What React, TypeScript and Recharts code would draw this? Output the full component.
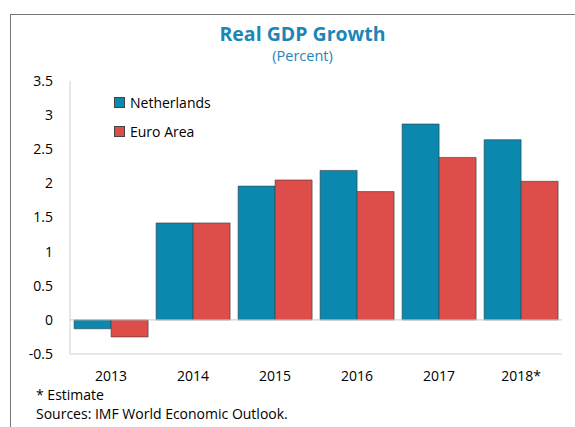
import React from 'react';
import { BarChart, Bar, XAxis, YAxis, ReferenceLine } from 'recharts';

const years = ['2013', '2014', '2015', '2016', '2017', '2018*'];
const netherlands = [-0.13, 1.42, 1.96, 2.19, 2.87, 2.64];
const euroArea = [-0.25, 1.42, 2.05, 1.88, 2.38, 2.03];
const yTicks = [-0.5, 0, 0.5, 1, 1.5, 2, 2.5, 3, 3.5];

const NL_COLOR = '#0a88ae';
const EA_COLOR = '#dd4d4a';
const TITLE_COLOR = '#1d86b6';
const BOX_COLOR = '#d0d0d0';
const FONT = '"Open Sans", "Noto Sans", sans-serif';

const data = years.map((year, i) => ({ year, nl: netherlands[i], ea: euroArea[i] }));

const legendItems = [
  { label: 'Netherlands', color: NL_COLOR },
  { label: 'Euro Area', color: EA_COLOR },
];

export default function App() {
  return (
    <div style={{ position: 'absolute', left: 0, top: 0, width: 575, height: 427, background: '#fff', overflow: 'hidden', fontFamily: FONT }}>
      {/* frame */}
      <div style={{ position: 'absolute', left: 10, top: 14, width: 570, height: 420, borderLeft: '1.5px solid #777', borderTop: '1.5px solid #777' }} />
      <div style={{ position: 'absolute', left: 20, width: 565, top: 20, textAlign: 'center', color: TITLE_COLOR, fontWeight: 700, fontSize: 19.5 }}>
        Real GDP Growth
      </div>
      <div style={{ position: 'absolute', left: 20, width: 565, top: 46, textAlign: 'center', color: TITLE_COLOR, fontSize: 14.5 }}>
        (Percent)
      </div>
      <div style={{ position: 'absolute', left: 0, top: 0 }}>
        <BarChart
          width={575}
          height={427}
          data={data}
          margin={{ top: 81, right: 13, bottom: 43, left: 10 }}
          barCategoryGap="5%"
          barGap={0}
        >
          <ReferenceLine y={0} stroke="#c8c8c8" strokeWidth={1} />
          <XAxis
            dataKey="year"
            height={30}
            axisLine={{ stroke: BOX_COLOR }}
            tickLine={false}
            tickMargin={11}
            tick={{ fill: '#000', fontSize: 14, fontFamily: FONT }}
            interval={0}
          />
          <XAxis xAxisId="top" dataKey="year" orientation="top" height={0} tick={false} tickLine={false} axisLine={{ stroke: BOX_COLOR }} />
          <YAxis
            width={60}
            domain={[-0.5, 3.5]}
            ticks={yTicks}
            axisLine={{ stroke: BOX_COLOR }}
            tickLine={false}
            tickMargin={11}
            tick={{ fill: '#000', fontSize: 14, fontFamily: FONT }}
            allowDataOverflow
          />
          <YAxis yAxisId="right" orientation="right" width={0} domain={[-0.5, 3.5]} tick={false} tickLine={false} axisLine={{ stroke: BOX_COLOR }} />
          <Bar dataKey="nl" name="Netherlands" fill={NL_COLOR} stroke="#3a3a3a" strokeWidth={0.6} isAnimationActive={false} />
          <Bar dataKey="ea" name="Euro Area" fill={EA_COLOR} stroke="#3a3a3a" strokeWidth={0.6} isAnimationActive={false} />
        </BarChart>
      </div>
      <div style={{ position: 'absolute', left: 114, top: 88, fontSize: 14, color: '#000' }}>
        {legendItems.map((it) => (
          <div key={it.label} style={{ display: 'flex', alignItems: 'center', height: 29 }}>
            <span
              style={{
                display: 'inline-block',
                width: 9,
                height: 9,
                background: it.color,
                border: '1px solid #444',
                marginRight: 5,
              }}
            />
            {it.label}
          </div>
        ))}
      </div>
      <div style={{ position: 'absolute', left: 36, top: 385, fontSize: 14, color: '#000', lineHeight: '19px' }}>
        <div>* Estimate</div>
        <div>Sources: IMF World Economic Outlook.</div>
      </div>
    </div>
  );
}
